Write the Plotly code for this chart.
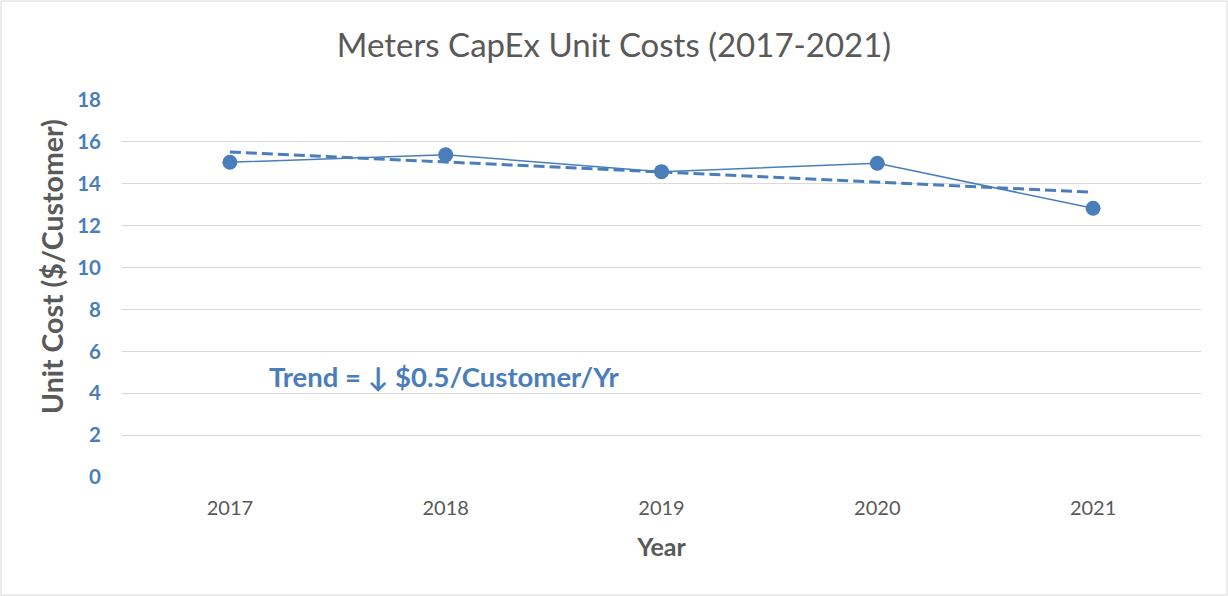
import plotly.graph_objects as go
import numpy as np

years = ["2017", "2018", "2019", "2020", "2021"]
unit_cost = [15.03, 15.38, 14.58, 14.98, 12.83]
y_ticks = [0, 2, 4, 6, 8, 10, 12, 14, 16, 18]

# linear trend (least squares) from the data
xi = np.arange(len(unit_cost))
slope, intercept = np.polyfit(xi, unit_cost, 1)
trend = list(intercept + slope * xi)

BLUE = "#4a7ebb"
GRAY = "#595959"
FONT = "Lato, Carlito, Calibri, sans-serif"

W, H = 1228, 596
ml, mr, mt, mb = 122, 27, 100, 119
pw, ph = W - ml - mr, H - mt - mb

fig = go.Figure()
fig.add_trace(go.Scatter(x=years, y=trend, mode="lines",
                         line=dict(color=BLUE, width=3, dash="11px,5px"),
                         showlegend=False, hoverinfo="skip"))
fig.add_trace(go.Scatter(x=years, y=unit_cost, mode="lines+markers",
                         line=dict(color=BLUE, width=1.5),
                         marker=dict(color=BLUE, size=15),
                         showlegend=False))

fig.add_annotation(x=0.17, y=4.82, xref="x", yref="y", xanchor="left", yanchor="middle",
                   text="<b>Trend = ↓ $0.5/Customer/Yr</b>", showarrow=False,
                   font=dict(family=FONT, size=27.5, color=BLUE))

# y-axis title (placed as annotation to match the reference offset)
fig.add_annotation(x=-(ml - 52) / pw, y=(477 - 267) / ph, xref="paper", yref="paper",
                   xanchor="center", yanchor="middle", textangle=-90, showarrow=False,
                   text="<b>Unit Cost ($/Customer)</b>",
                   font=dict(family=FONT, size=28.5, color=GRAY))

fig.add_shape(type="rect", xref="paper", yref="paper",
              x0=-(ml - 1) / pw, x1=1 + (mr - 1) / pw,
              y0=-(mb - 1) / ph, y1=1 + (mt - 1) / ph,
              line=dict(color="#d9d9d9", width=1), layer="below")

fig.update_layout(
    width=W, height=H,
    margin=dict(l=ml, r=mr, t=mt, b=mb),
    paper_bgcolor="white", plot_bgcolor="white",
    title=dict(text="Meters CapEx Unit Costs (2017-2021)", x=0.5, xanchor="center",
               y=1 - 45 / H, yanchor="middle",
               font=dict(family=FONT, size=33, color=GRAY)),
    xaxis=dict(type="category", range=[-0.5, 4.5], showgrid=False,
               showline=False, zeroline=False, ticks="", ticklabelstandoff=17,
               tickfont=dict(family=FONT, size=20, color=GRAY),
               title=dict(text="<b>Year</b>", font=dict(family=FONT, size=25, color=GRAY), standoff=20)),
    yaxis=dict(range=[0, 18], tickvals=y_ticks, showgrid=True, gridcolor="#d9d9d9",
               gridwidth=1, zeroline=False, showline=False, ticks="", ticklabelstandoff=20,
               tickfont=dict(family=FONT, size=20.5, color=BLUE, weight="bold")),
)
fig.write_html("out.html", config={"displayModeBar": False},
               post_script="document.body.style.margin='0';document.body.style.padding='0';")
